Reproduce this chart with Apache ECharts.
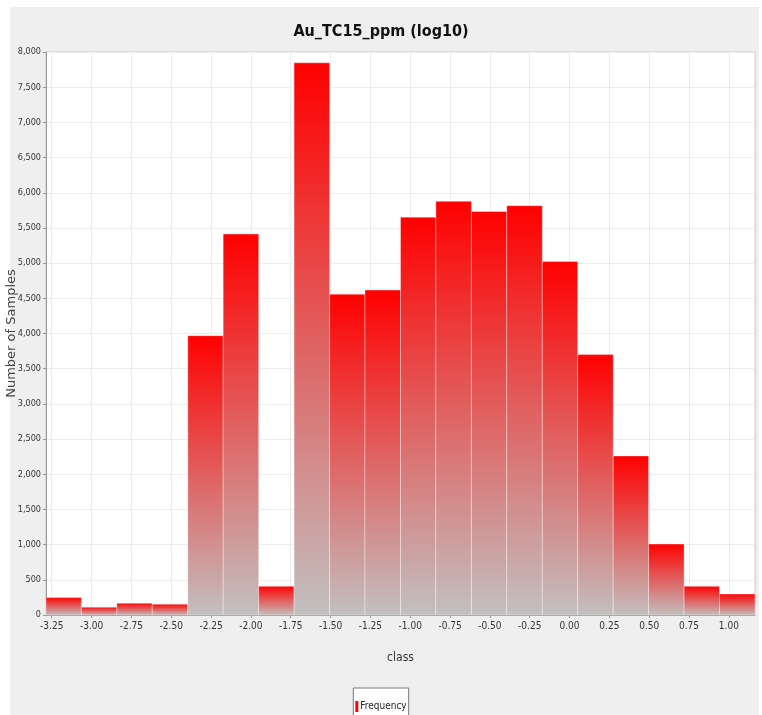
<!DOCTYPE html>
<html><head><meta charset="utf-8">
<script src="https://cdn.jsdelivr.net/npm/echarts@6/dist/echarts.min.js"></script>
<style>
html,body{margin:0;padding:0;background:#fff;width:762px;height:715px;overflow:hidden}
#chart{position:absolute;left:0;top:0;width:762px;height:715px;background:#fff}
</style></head>
<body><div id="chart"></div>
<script>
// Histogram bins (lower/upper edges in log10 ppm) and counts
const binLower = [-3.286,-3.064,-2.841,-2.619,-2.396,-2.174,-1.951,-1.729,-1.506,-1.284,-1.061,-0.839,-0.616,-0.394,-0.171,0.051,0.274,0.496,0.719,0.941];
const binUpper = [-3.064,-2.841,-2.619,-2.396,-2.174,-1.951,-1.729,-1.506,-1.284,-1.061,-0.839,-0.616,-0.394,-0.171,0.051,0.274,0.496,0.719,0.941,1.164];
const frequency = [249,111,168,154,3969,5413,407,7846,4559,4617,5653,5878,5734,5816,5024,3700,2260,1008,407,298];
const xTicks = [-3.25,-3.00,-2.75,-2.50,-2.25,-2.00,-1.75,-1.50,-1.25,-1.00,-0.75,-0.50,-0.25,0.00,0.25,0.50,0.75,1.00];
const title = 'Au_TC15_ppm (log10)';
const seriesName = 'Frequency';

const NARROW = '"Liberation Sans Narrow","DejaVu Sans Condensed","Arial Narrow",sans-serif';
const data = frequency.map((v,i)=>[binLower[i], binUpper[i], v]);
const grad = new echarts.graphic.LinearGradient(0,0,0,1,[{offset:0,color:'#ff0000'},{offset:1,color:'#c2c0c0'}]);

const chart = echarts.init(document.getElementById('chart'), null, {renderer:'canvas'});
chart.setOption({
  animation:false,
  backgroundColor:'#ffffff',
  graphic:[{type:'rect',left:10,top:7,z:-100,silent:true,shape:{width:749,height:708},style:{fill:'#efefef'}}],
  title:{text:title,left:'center',top:19,textStyle:{fontFamily:NARROW,fontSize:16,fontWeight:'bold',color:'#111'}},
  grid:{left:46,top:52,right:7,bottom:100,containLabel:false,outerBoundsMode:'none',
    show:true,backgroundColor:'#ffffff',borderColor:'#c8c8c8',borderWidth:1},
  legend:{bottom:-6,left:'center',data:[{name:seriesName,icon:'rect'}],itemWidth:3,itemHeight:11,itemGap:1,
    padding:[13,2,9,2],backgroundColor:'#ffffff',borderColor:'#777',borderWidth:1,
    textStyle:{fontFamily:NARROW,fontSize:10,color:'#222',padding:[0,0,0,-3]}},
  xAxis:{type:'value',min:binLower[0],max:binUpper[binUpper.length-1],
    name:'class',nameLocation:'middle',nameGap:37,nameMoveOverlap:false,
    nameTextStyle:{fontFamily:NARROW,fontSize:12,color:'#333'},
    axisLine:{show:true,onZero:false,lineStyle:{color:'#999'}},
    axisTick:{show:true,customValues:xTicks,length:3,lineStyle:{color:'#999'}},
    axisLabel:{customValues:xTicks,fontFamily:NARROW,fontSize:10,color:'#333',margin:6,
      formatter:v=>v.toFixed(2)},
    splitLine:{show:true,lineStyle:{color:'#ececec'}}},
  yAxis:{type:'value',min:0,max:8000,interval:500,
    name:'Number of Samples',nameLocation:'middle',nameGap:28,nameRotate:90,nameMoveOverlap:false,
    nameTextStyle:{fontFamily:'"DejaVu Sans",sans-serif',fontSize:13,color:'#444'},
    axisLine:{show:true,onZero:false,lineStyle:{color:'#999'}},
    axisTick:{show:true,length:3,lineStyle:{color:'#999'}},
    axisLabel:{fontFamily:NARROW,fontSize:9,color:'#333',margin:5,
      formatter:v=>v.toLocaleString('en-US')},
    splitLine:{show:true,lineStyle:{color:'#ececec'}}},
  series:[{
    name:seriesName,type:'custom',data:data,
    itemStyle:{color:'#ff0000'},
    encode:{x:[0,1],y:2},
    renderItem:function(params,api){
      const p0 = api.coord([api.value(0), api.value(2)]);
      const p1 = api.coord([api.value(1), 0]);
      return {type:'rect',shape:{x:p0[0],y:p0[1],width:p1[0]-p0[0],height:p1[1]-p0[1]},
        style:{fill:grad,stroke:'rgba(255,255,255,0.35)',lineWidth:1}};
    }
  }]
});
</script></body></html>
